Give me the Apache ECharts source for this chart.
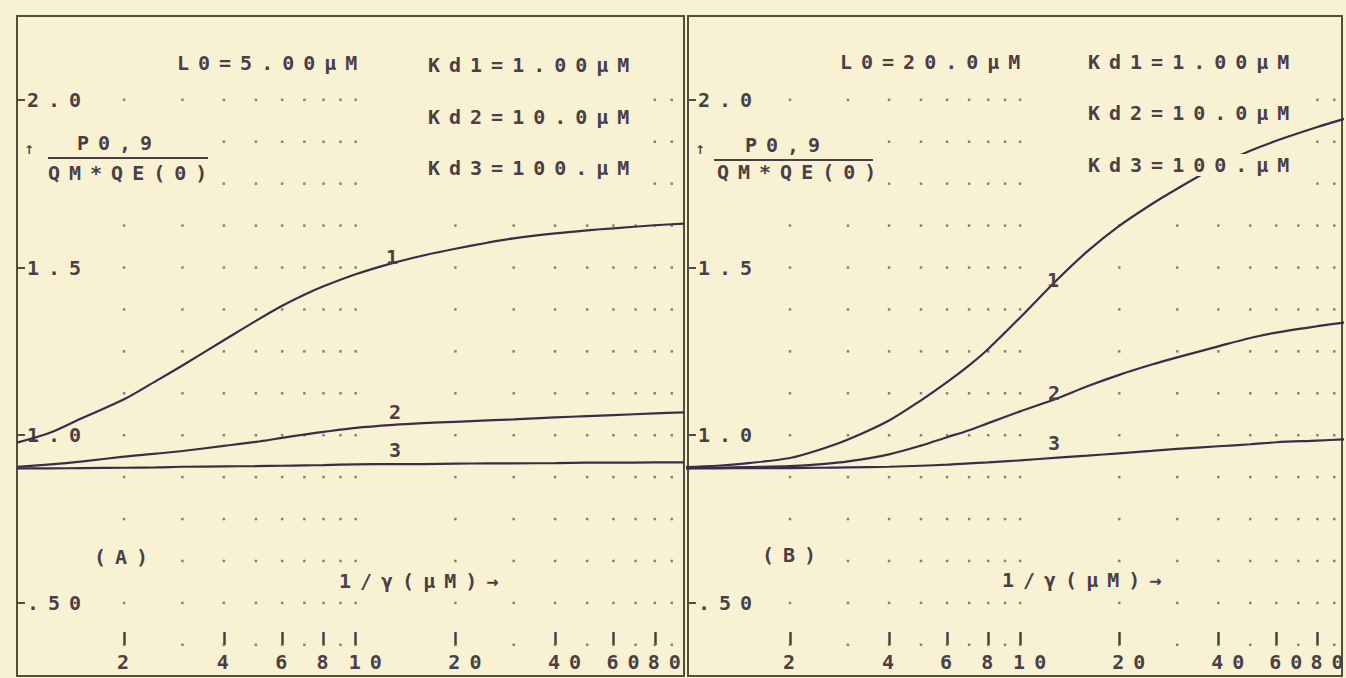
<!DOCTYPE html>
<html>
<head>
<meta charset="utf-8">
<script src="https://cdn.jsdelivr.net/npm/echarts@6/dist/echarts.min.js"></script>
<style>
  html, body { margin: 0; padding: 0; background: #f8f1d3; }
  #chart { width: 1346px; height: 678px; letter-spacing: 9px; }
</style>
</head>
<body>
<div id="chart"></div>
<script>
// ---------- data ----------
const xVals   = [0.95, 1.2, 1.5, 2, 2.5, 3, 4, 5, 6, 7, 8, 10, 13, 16, 20, 25, 30, 40, 50, 60, 80, 98];
// Panel A  (L0 = 5.00 µM)
const curveA1 = [0.978, 1.008, 1.052, 1.107, 1.162, 1.208, 1.283, 1.341, 1.386, 1.419, 1.444, 1.480, 1.514, 1.536, 1.556, 1.574, 1.587, 1.602, 1.611, 1.617, 1.626, 1.631];
const curveA2 = [0.906, 0.913, 0.922, 0.936, 0.945, 0.953, 0.968, 0.980, 0.992, 1.002, 1.010, 1.022, 1.031, 1.036, 1.040, 1.044, 1.047, 1.053, 1.057, 1.060, 1.065, 1.068];
const curveA3 = [0.901, 0.901, 0.902, 0.903, 0.904, 0.906, 0.907, 0.908, 0.909, 0.910, 0.911, 0.913, 0.914, 0.914, 0.915, 0.916, 0.916, 0.917, 0.918, 0.918, 0.919, 0.919];
// Panel B  (L0 = 20.0 µM)
const curveB1 = [0.905, 0.909, 0.917, 0.932, 0.959, 0.987, 1.044, 1.104, 1.158, 1.208, 1.257, 1.351, 1.465, 1.548, 1.624, 1.688, 1.735, 1.804, 1.848, 1.878, 1.919, 1.945];
const curveB2 = [0.902, 0.903, 0.905, 0.908, 0.914, 0.922, 0.943, 0.969, 0.994, 1.015, 1.036, 1.071, 1.110, 1.146, 1.180, 1.210, 1.232, 1.265, 1.290, 1.306, 1.325, 1.337];
const curveB3 = [0.901, 0.901, 0.902, 0.902, 0.903, 0.904, 0.906, 0.909, 0.912, 0.916, 0.919, 0.925, 0.933, 0.939, 0.946, 0.953, 0.959, 0.967, 0.973, 0.979, 0.984, 0.988];

const xTickVals = [2, 4, 6, 8, 10, 20, 40, 60, 80];
const yTickVals = [0.5, 1.0, 1.5, 2.0];
const yTickLabels = ['.50', '1.0', '1.5', '2.0'];
const dotX = [2, 3, 4, 5, 6, 7, 8, 9, 10, 20, 30, 40, 50, 60, 70, 80, 90];
const dotY = [0.375, 0.5, 0.625, 0.75, 0.875, 1.0, 1.125, 1.25, 1.375, 1.5, 1.625, 1.75, 1.875, 2.0];

const panelTextA = { L0: 'L0=5.00μM', kd: ['Kd1=1.00μM', 'Kd2=10.0μM', 'Kd3=100.μM'], tag: '(A)' };
const panelTextB = { L0: 'L0=20.0μM', kd: ['Kd1=1.00μM', 'Kd2=10.0μM', 'Kd3=100.μM'], tag: '(B)' };
const yTitleTop = 'P0,9';
const yTitleBottom = 'QM*QE(0)';
const xTitle = '1/γ(μM)→';
const curveNames = ['1', '2', '3'];

// ---------- style ----------
const PAPER = '#f8f1d3';
const INK = '#4b3f46';
const CURVE = '#3d2b4a';
const FRAME = '#534d3a';
const DOT = '#6e6556';
const FONT = 'bold 20px "DejaVu Sans Mono", monospace';
const CELL = 21;

const chart = echarts.init(document.getElementById('chart'), null, { renderer: 'svg' });

function pairs(xs, ys) { return xs.map((x, i) => [x, ys[i]]); }
function dotGrid() {
  const d = [];
  dotY.forEach(y => dotX.forEach(x => d.push([x, y])));
  return d;
}

const grids = [
  { left: 17, top: 16, width: 667, height: 660 },
  { left: 688, top: 16, width: 654, height: 660 }
];
const xRanges = [[0.95, 98], [0.98, 95]];

const xAxes = [];
const yAxes = [];
grids.forEach((g, gi) => {
  xAxes.push({
    type: 'log', gridIndex: gi, min: xRanges[gi][0], max: xRanges[gi][1],
    position: 'bottom',
    axisLine: { show: false },
    axisTick: { show: false },
    splitLine: { show: false },
    minorSplitLine: { show: false },
    axisLabel: {
      inside: true, margin: 4, customValues: xTickVals,
      color: INK, fontFamily: '"DejaVu Sans Mono", monospace', fontWeight: 'bold', fontSize: 20,
      align: 'left', padding: [0, 0, 0, -7],
      formatter: v => String(Math.round(v))
    }
  });
  xAxes.push({
    type: 'log', gridIndex: gi, min: xRanges[gi][0], max: xRanges[gi][1],
    position: 'bottom', offset: -31,
    axisLine: { show: false },
    axisTick: { show: true, inside: true, length: 13, customValues: xTickVals, lineStyle: { color: INK, width: 2.5 } },
    axisLabel: { show: false },
    splitLine: { show: false }
  });
  yAxes.push({
    type: 'value', gridIndex: gi, min: 0.282, max: 2.25,
    axisLine: { show: false },
    splitLine: { show: false },
    axisTick: { show: true, inside: true, length: 8, customValues: yTickVals, lineStyle: { color: FRAME, width: 2 } },
    axisLabel: {
      inside: true, margin: 10, customValues: yTickVals,
      color: INK, fontFamily: '"DejaVu Sans Mono", monospace', fontWeight: 'bold', fontSize: 20,
      formatter: v => yTickLabels[yTickVals.findIndex(t => Math.abs(t - v) < 1e-6)]
    }
  });
});

function lineSeries(xi, yi, ys) {
  return {
    type: 'line', xAxisIndex: xi, yAxisIndex: yi, data: pairs(xVals, ys),
    smooth: 0.3, symbol: 'none', z: 3, silent: true,
    lineStyle: { color: CURVE, width: 2.2 }
  };
}
function dotSeries(xi, yi) {
  return {
    type: 'scatter', xAxisIndex: xi, yAxisIndex: yi, data: dotGrid(),
    symbol: 'rect', symbolSize: 2.5, z: 1, silent: true,
    itemStyle: { color: DOT }
  };
}

function txt(x, y, text, bg) {
  const style = {
    text: text, font: FONT, fill: INK,
    textAlign: 'left', textVerticalAlign: 'middle', verticalAlign: 'middle'
  };
  if (bg !== false) {
    style.backgroundColor = PAPER;
    style.width = text.length * CELL - 6;
    style.padding = [1, 2, 1, 2];
  }
  return { type: 'text', x: x, y: y, z: 6, silent: true, style: style };
}
function block(x, y, w, h) {
  return { type: 'rect', z: 2, silent: true, shape: { x: x, y: y, width: w, height: h }, style: { fill: PAPER } };
}
function rule(x1, x2, y) {
  return { type: 'line', z: 6, silent: true, shape: { x1: x1, y1: y, x2: x2, y2: y }, style: { stroke: INK, lineWidth: 2 } };
}
function arrow(x, y) {
  return { type: 'text', x: x, y: y, z: 6, silent: true,
    style: { text: '↑', font: 'bold 12px "DejaVu Sans"', fill: INK, textAlign: 'left', textVerticalAlign: 'middle', verticalAlign: 'middle' } };
}

const graphics = [
  // erased areas of the dotted grid behind the printed text blocks
  block(360, 40, 290, 155), block(20, 120, 185, 75),
  block(1025, 40, 280, 155), block(690, 120, 185, 75),
  // Panel A text
  txt(175, 63, panelTextA.L0),
  txt(426, 65, panelTextA.kd[0]), txt(426, 117, panelTextA.kd[1]), txt(426, 168, panelTextA.kd[2]),
  arrow(24, 150), txt(75, 143, yTitleTop), rule(48, 208, 158), txt(46, 173, yTitleBottom),
  txt(92, 557, panelTextA.tag), txt(337, 581, xTitle),
  txt(386, 257, curveNames[0], false), txt(389, 412, curveNames[1], false), txt(389, 450, curveNames[2], false),
  // Panel B text
  txt(838, 62, panelTextB.L0),
  txt(1086, 62, panelTextB.kd[0]), txt(1086, 113, panelTextB.kd[1]), txt(1086, 165, panelTextB.kd[2]),
  arrow(695, 150), txt(743, 145, yTitleTop), rule(714, 873, 160), txt(715, 172, yTitleBottom),
  txt(760, 555, panelTextB.tag), txt(1000, 580, xTitle),
  txt(1047, 280, curveNames[0], false), txt(1048, 393, curveNames[1], false), txt(1048, 443, curveNames[2], false)
];

chart.setOption({
  backgroundColor: PAPER,
  animation: false,
  grid: grids.map(g => Object.assign({ show: true, borderColor: FRAME, borderWidth: 2, backgroundColor: 'transparent' }, g)),
  xAxis: xAxes,
  yAxis: yAxes,
  series: [
    dotSeries(0, 0), dotSeries(2, 1),
    lineSeries(0, 0, curveA1), lineSeries(0, 0, curveA2), lineSeries(0, 0, curveA3),
    lineSeries(2, 1, curveB1), lineSeries(2, 1, curveB2), lineSeries(2, 1, curveB3)
  ],
  graphic: { elements: graphics }
});
</script>
</body>
</html>
